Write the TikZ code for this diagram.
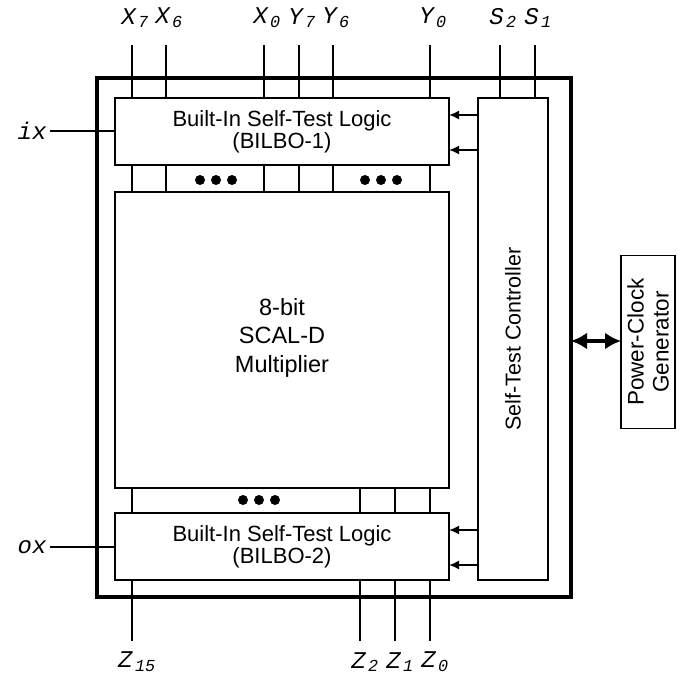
\documentclass[tikz,border=0pt]{standalone}
\usepackage{fontspec}
\setmainfont{Liberation Sans}
\newfontfamily\broche{Liberation Mono}
\usetikzlibrary{positioning, arrows.meta, calc}

\newcommand{\etiq}[2]{{\broche\itshape #1\kern2.5pt\textsubscript{#2}}}

\begin{document}
\begin{tikzpicture}[x=1pt, y=-1pt,
    bloc/.style={draw, line width=1.5pt, inner sep=0pt, outer sep=0pt, align=center},
    fil/.style={line width=1.6pt},
    nomfil/.style={font=\fontsize{24}{24}\selectfont},
    fleche/.style={fil, -{Latex[length=10pt, width=9pt]}}]
    \useasboundingbox (0,0) rectangle (683,679);
    % le boîtier
    \node[draw, line width=3.6pt, inner sep=0pt, outer sep=0pt,
      minimum width=474pt, minimum height=519pt] (boitier) at (334,337.5) {};
    % les blocs
    \node[bloc, minimum width=334pt, minimum height=67pt,
      font=\fontsize{22}{22}\selectfont] (bilboA) at (282,131.5)
      {Built-In Self-Test Logic\\(BILBO-1)};
    \node[bloc, minimum width=334pt, minimum height=296pt,
      font=\fontsize{23.5}{28.5}\selectfont, text depth=10pt] (mult) at (282,340)
      {8-bit\\SCAL-D\\Multiplier};
    \node[bloc, minimum width=334pt, minimum height=67pt,
      font=\fontsize{22}{22}\selectfont] (bilboB) at (282,546.5)
      {Built-In Self-Test Logic\\(BILBO-2)};
    \node[bloc, rotate=90, minimum width=482pt, minimum height=70pt,
      font=\fontsize{21.5}{24}\selectfont] (ctrl) at (513,339)
      {Self-Test Controller};
    \node[bloc, rotate=90, minimum width=173pt, minimum height=54pt,
      font=\fontsize{22.5}{25}\selectfont] (horloge) at (648,342)
      {Power-Clock\\Generator};
    % entrées X et Y
    \foreach \nom/\x/\ind in {X/132/7, X/166/6, X/264/0, Y/299/7, Y/333/6, Y/430/0}{
      \coordinate (h\nom\ind) at (\x,45);
      \node[nomfil] (l\nom\ind) at (\x+3,18) {\etiq{\nom}{\ind}};
      \draw[fil] (h\nom\ind) -- (h\nom\ind |- bilboA.north);
      \draw[fil] (h\nom\ind |- bilboA.south) -- (h\nom\ind |- mult.north);
    }
    % entrées S
    \foreach \ind/\x in {2/500, 1/535}{
      \coordinate (hS\ind) at (\x,45);
      \node[nomfil] (lS\ind) at (\x+3,18) {\etiq{S}{\ind}};
      \draw[fil] (hS\ind) -- (hS\ind |- ctrl.east);
    }
    % sorties Z
    \foreach \ind/\x in {15/132, 2/360, 1/395, 0/430}{
      \coordinate (bZ\ind) at (\x,641);
      \node[nomfil] (lZ\ind) at (\x+5,662) {\etiq{Z}{\ind}};
      \draw[fil] (bZ\ind |- mult.south) -- (bZ\ind |- bilboB.north);
      \draw[fil] (bZ\ind |- bilboB.south) -- (bZ\ind);
    }
    % points de suspension
    \foreach \x in {200,216,232, 365,381,397}
      \fill (\x,180) circle (5pt);
    \foreach \x in {243,259,275}
      \fill (\x,500) circle (5pt);
    % ix et ox
    \node[anchor=east, font=\fontsize{24}{24}\selectfont\broche\itshape] (ix) at (50,131) {ix};
    \node[anchor=east, font=\fontsize{24}{24}\selectfont\broche\itshape] (ox) at (50,547) {ox};
    \draw[fil] (ix.east) -- (ix.east -| bilboA.west);
    \draw[fil] (ox.east) -- (ox.east -| bilboB.west);
    % commandes du contrôleur
    \foreach \y in {115,150}
      \draw[fleche] (ctrl.north |- 0,\y) -- (bilboA.east |- 0,\y);
    \foreach \y in {530,565}
      \draw[fleche] (ctrl.north |- 0,\y) -- (bilboB.east |- 0,\y);
    % liaison avec le générateur
    \draw[line width=4pt, {Latex[length=16pt, width=17pt]}-{Latex[length=16pt, width=17pt]}]
      (horloge.north |- 0,341) -- (boitier.east |- 0,341);
  \end{tikzpicture}
\end{document}
